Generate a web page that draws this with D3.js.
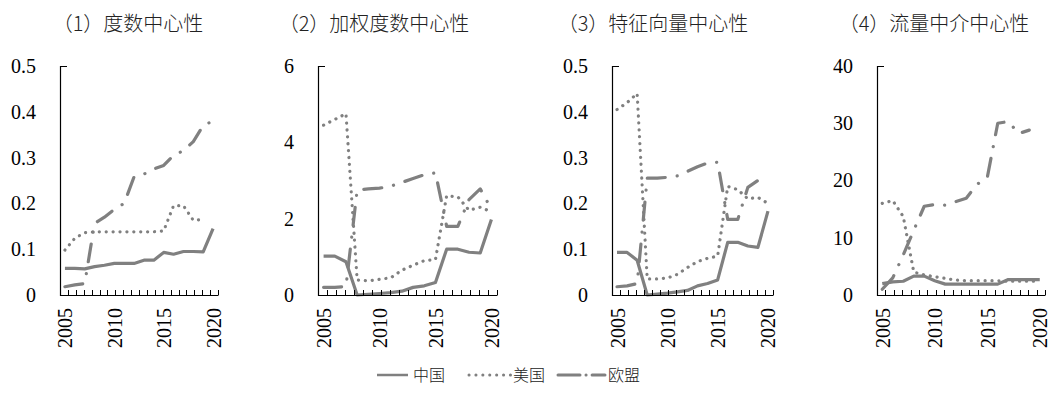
<!DOCTYPE html>
<html><head><meta charset="utf-8">
<script src="https://cdn.jsdelivr.net/npm/d3@7"></script>
<style>
body{margin:0;background:#fff;}
svg{display:block;}
</style></head>
<body>
<script>
const years = [2005,2006,2007,2008,2009,2010,2011,2012,2013,2014,2015,2016,2017,2018,2019,2020];
const xTickLabels = [2005,2010,2015,2020];
const seriesNames = ["中国","美国","欧盟"];
const titles = ["（1）度数中心性","（2）加权度数中心性","（3）特征向量中心性","（4）流量中介中心性"];

// (1) degree centrality
const degCN = [0.058,0.058,0.057,0.062,0.065,0.069,0.069,0.069,0.076,0.076,0.093,0.089,0.095,0.095,0.094,0.145];
const degUS = [0.098,0.124,0.136,0.138,0.138,0.138,0.138,0.138,0.138,0.138,0.140,0.195,0.195,0.163,0.165,null];
const degEU = [0.018,0.022,0.025,0.156,0.170,0.187,0.200,0.258,0.264,0.275,0.283,0.305,0.315,0.335,0.370,0.380];
const degTicks = [0,0.1,0.2,0.3,0.4,0.5];

// (2) weighted degree centrality
const wdegCN = [1.02,1.02,0.87,0.0,0.02,0.04,0.06,0.10,0.20,0.24,0.33,1.20,1.20,1.12,1.10,1.98];
const wdegUS = [4.45,4.60,4.75,0.39,0.37,0.41,0.45,0.65,0.78,0.90,0.93,2.60,2.57,2.22,2.30,2.18];
const wdegEU = [0.20,0.20,0.22,2.75,2.78,2.80,2.85,2.95,3.05,3.15,3.20,1.80,1.80,2.50,2.78,2.25];
const wdegTicks = [0,2,4,6];

// (3) eigenvector centrality
const eigCN = [0.093,0.093,0.076,0.0,0.002,0.004,0.007,0.010,0.020,0.025,0.033,0.115,0.115,0.107,0.104,0.183];
const eigUS = [0.405,0.420,0.440,0.035,0.035,0.037,0.045,0.060,0.073,0.080,0.085,0.237,0.230,0.210,0.213,0.200];
const eigEU = [0.018,0.020,0.025,0.255,0.255,0.257,0.260,0.270,0.280,0.288,0.290,0.165,0.165,0.235,0.250,null];
const eigTicks = [0,0.1,0.2,0.3,0.4,0.5];

// (4) betweenness centrality
const btwCN = [2.0,2.3,2.4,3.3,3.3,2.5,1.9,1.9,1.9,1.9,1.9,1.9,2.7,2.7,2.7,2.7];
const btwUS = [16.0,16.5,13.7,4.0,3.5,3.2,2.9,2.6,2.5,2.5,2.5,2.5,2.4,2.4,2.4,2.4];
const btwEU = [1.0,3.0,7.0,11.3,15.5,15.8,15.7,16.3,16.9,19.3,20.5,30.0,30.3,28.2,28.8,null];
const btwTicks = [0,10,20,30,40];

const panels = [
  {title: titles[0], series:[degCN,degUS,degEU], ticks:degTicks, x0:60, x1:218, tx:128},
  {title: titles[1], series:[wdegCN,wdegUS,wdegEU], ticks:wdegTicks, x0:318, x1:497, tx:374},
  {title: titles[2], series:[eigCN,eigUS,eigEU], ticks:eigTicks, x0:612, x1:773, tx:653},
  {title: titles[3], series:[btwCN,btwUS,btwEU], ticks:btwTicks, x0:877, x1:1045, tx:934}
];

const yTop = 66, yBot = 295;
const lineColor = "#808080";
const styles = [
  {dash:null, cap:"butt"},
  {dash:"0.1 6.8", cap:"round"},
  {dash:"18 12 0.1 12", cap:"round"}
];
const numFont = "'Liberation Serif','Times New Roman',serif";
const cjkFont = "'Noto Sans CJK SC','Noto Sans CJK JP',sans-serif";

const svg = d3.select("body").append("svg").attr("width",1051).attr("height",393);

panels.forEach(p => {
  const x = d3.scalePoint().domain(years).range([p.x0, p.x1]).padding(0.5);
  const y = d3.scaleLinear().domain([0, d3.max(p.ticks)]).range([yBot, yTop]);
  const g = svg.append("g");

  // title
  g.append("text").attr("x", p.tx).attr("y", 31).attr("text-anchor","middle")
    .style("font-family", cjkFont).style("font-size","20px").style("font-weight","300").attr("fill","#222")
    .text(p.title);

  // series lines
  p.series.forEach((vals, i) => {
    const line = d3.line()
      .defined(d => d[1] != null)
      .x(d => x(d[0])).y(d => y(d[1]));
    const path = g.append("path")
      .datum(years.map((yr, k) => [yr, vals[k]]))
      .attr("d", line)
      .attr("fill","none").attr("stroke", lineColor)
      .attr("stroke-width", 3.2)
      .attr("stroke-linejoin","round")
      .attr("stroke-linecap", styles[i].cap);
    if (styles[i].dash) path.attr("stroke-dasharray", styles[i].dash);
  });

  // axis lines
  g.append("path")
    .attr("d", `M${p.x0+7},${yTop+0.5}H${p.x0+0.5}V${yBot+0.5}H${p.x1}`)
    .attr("fill","none").attr("stroke","#000").attr("stroke-width",1.2);
  // x-axis minor ticks (inside)
  const nT = 20;
  d3.range(1, nT+1).forEach(k => {
    const tx = Math.round(p.x0 + (p.x1 - p.x0) * k / nT) + 0.5;
    g.append("line").attr("x1",tx).attr("x2",tx).attr("y1",yBot+0.5).attr("y2",yBot-5)
      .attr("stroke","#000").attr("stroke-width",1);
  });

  // y axis labels
  const ay = d3.axisLeft(y).tickValues(p.ticks).tickSize(0).tickPadding(24).tickFormat(d => String(d));
  const gy = g.append("g").attr("transform", `translate(${p.x0},0)`).call(ay);
  gy.select(".domain").remove();
  gy.selectAll("text").style("font-family", numFont).style("font-size","20px").attr("fill","#000");

  // x axis labels
  const ax = d3.axisBottom(x).tickValues(xTickLabels).tickSize(0);
  const gx = g.append("g").attr("transform", `translate(0,${yBot})`).call(ax);
  gx.select(".domain").remove();
  gx.selectAll("text")
    .attr("transform","rotate(-90)").attr("text-anchor","end")
    .attr("x",-13).attr("y",0).attr("dy","0.35em")
    .style("font-family", numFont).style("font-size","20px").attr("fill","#000");
});

// legend
const legend = [
  {x1:377, x2:408, tx:413},
  {x1:469, x2:511, tx:513},
  {x1:558, x2:605, tx:608}
];
const legendStyles = [null, "0.1 6.8", "22 6 0.1 6"];
const lg = svg.append("g");
legend.forEach((l, i) => {
  const ln = lg.append("line").attr("x1", l.x1).attr("x2", l.x2).attr("y1",375).attr("y2",375)
    .attr("stroke", lineColor).attr("stroke-width", i === 0 ? 2.5 : 3)
    .attr("stroke-linecap", i === 0 ? "butt" : "round");
  if (legendStyles[i]) ln.attr("stroke-dasharray", legendStyles[i]);
  lg.append("text").attr("x", l.tx).attr("y", 381)
    .style("font-family", cjkFont).style("font-size","16px").style("font-weight","300").attr("fill","#222")
    .text(seriesNames[i]);
});
</script>
</body></html>
